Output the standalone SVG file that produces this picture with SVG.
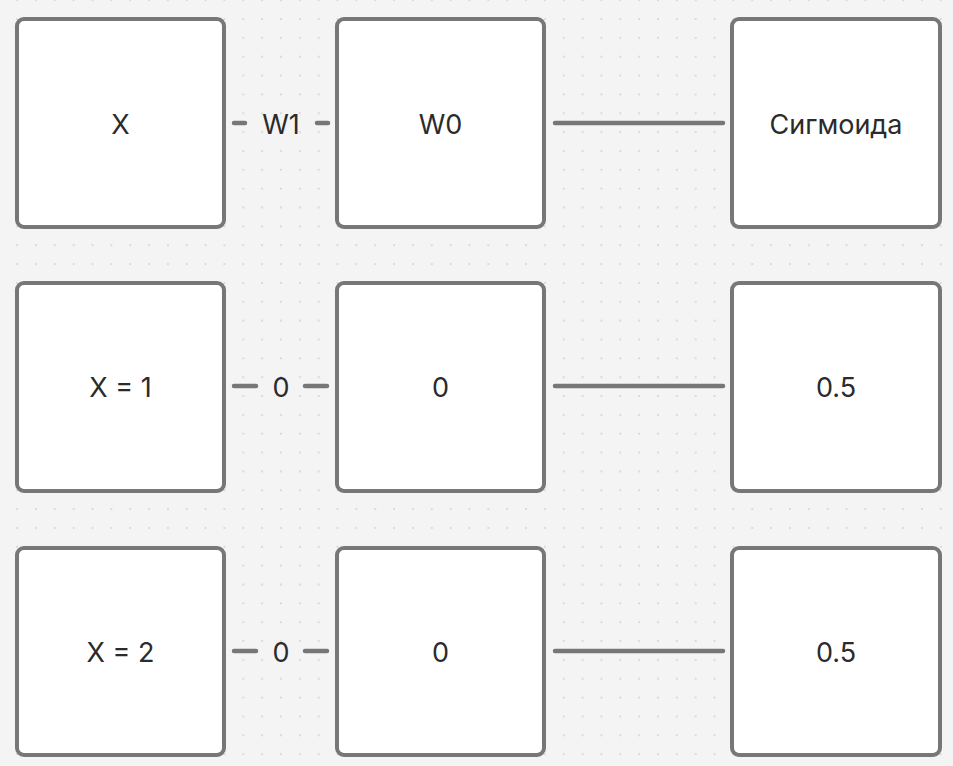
<svg xmlns="http://www.w3.org/2000/svg" width="953" height="766" viewBox="0 0 953 766">
  <defs>
    <pattern id="dots" x="17.1" y="0.15" width="18.85" height="18.85" patternUnits="userSpaceOnUse">
      <circle cx="0" cy="0" r="1" fill="#d2d2d2"/>
      <circle cx="18.85" cy="0" r="1" fill="#d2d2d2"/>
      <circle cx="0" cy="18.85" r="1" fill="#d2d2d2"/>
      <circle cx="18.85" cy="18.85" r="1" fill="#d2d2d2"/>
    </pattern>
    <style>
      .node rect { fill: #ffffff; stroke: #777777; stroke-width: 4; }
      .node text, .lbl { font-family: Inter, "Noto Sans", "Liberation Sans", sans-serif; font-size: 27px; fill: #2b2b2b; text-anchor: middle; }
      .edge { stroke: #777777; stroke-width: 4.5; stroke-linecap: round; fill: none; }
    </style>
  </defs>
  <rect width="953" height="766" fill="#f4f4f4"/>
  <rect width="953" height="766" fill="url(#dots)"/>

  <g id="connectors">
    <line class="edge" x1="234" y1="123" x2="245" y2="123"/>
    <line class="edge" x1="317" y1="123" x2="328" y2="123"/>
    <text class="lbl" x="281" y="134">W1</text>
    <line class="edge" x1="555" y1="123" x2="723" y2="123"/>

    <line class="edge" x1="234" y1="386" x2="256" y2="386"/>
    <line class="edge" x1="305" y1="386" x2="327" y2="386"/>
    <text class="lbl" x="281" y="397">0</text>
    <line class="edge" x1="555" y1="386" x2="723" y2="386"/>

    <line class="edge" x1="234" y1="651" x2="256" y2="651"/>
    <line class="edge" x1="305" y1="651" x2="327" y2="651"/>
    <text class="lbl" x="281" y="662">0</text>
    <line class="edge" x1="555" y1="651" x2="723" y2="651"/>
  </g>

  <g id="node-x" class="node">
    <rect x="17" y="19" width="207" height="208" rx="7"/>
    <text x="120.5" y="134">X</text>
  </g>
  <g id="node-w0" class="node">
    <rect x="337" y="19" width="207" height="208" rx="7"/>
    <text x="440.5" y="134">W0</text>
  </g>
  <g id="node-sigmoid" class="node">
    <rect x="732" y="19" width="208" height="208" rx="7"/>
    <text x="836" y="134">Сигмоида</text>
  </g>

  <g id="node-x1" class="node">
    <rect x="17" y="283" width="207" height="208" rx="7"/>
    <text x="120.5" y="397">X = 1</text>
  </g>
  <g id="node-w0-1" class="node">
    <rect x="337" y="283" width="207" height="208" rx="7"/>
    <text x="440.5" y="397">0</text>
  </g>
  <g id="node-out-1" class="node">
    <rect x="732" y="283" width="208" height="208" rx="7"/>
    <text x="836" y="397">0.5</text>
  </g>

  <g id="node-x2" class="node">
    <rect x="17" y="548" width="207" height="207" rx="7"/>
    <text x="120.5" y="662">X = 2</text>
  </g>
  <g id="node-w0-2" class="node">
    <rect x="337" y="548" width="207" height="207" rx="7"/>
    <text x="440.5" y="662">0</text>
  </g>
  <g id="node-out-2" class="node">
    <rect x="732" y="548" width="208" height="207" rx="7"/>
    <text x="836" y="662">0.5</text>
  </g>
</svg>
